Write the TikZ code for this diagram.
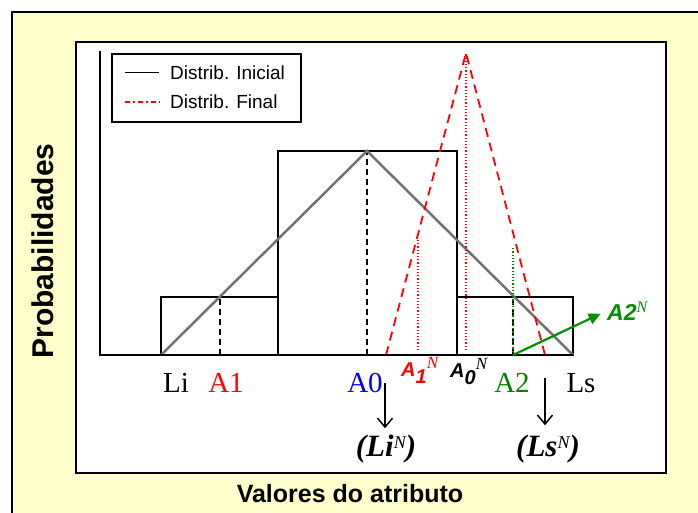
\documentclass[tikz,border=0pt]{standalone}
\usepackage{fontspec}
\setmainfont{Liberation Serif}
\setsansfont{Liberation Sans}
\usetikzlibrary{arrows.meta}
\definecolor{paper}{RGB}{255,255,204}
\definecolor{dgreen}{RGB}{0,128,0}
\definecolor{agreen}{RGB}{0,145,0}
\def\sz#1{\fontsize{#1}{#1}\selectfont}

\begin{document}
\begin{tikzpicture}[x=1pt,y=-1pt,
		axis/.style={black, line width=1.8pt},
		bar/.style={black, line width=1.4pt},
		tick/.style={black, line width=1.4pt, dash pattern=on 6pt off 4pt},
		redleg/.style={red, line width=1.8pt, dash pattern=on 9pt off 6pt},
		lab/.style={inner sep=0pt, anchor=base, font=\sz{29}},
		nlab/.style={inner sep=0pt, anchor=base west, font=\sffamily\bfseries\itshape\sz{20}},
		down/.style={-{Straight Barb[length=9pt,width=15pt]}, line width=1.5pt}]
		\useasboundingbox (0,0) rectangle (698,513);
		\clip (0,0) rectangle (698,513);
		\fill[white] (0,0) rectangle (698,513);
		\filldraw[fill=paper, line width=1.8pt] (12,12) rectangle (720,540);
		\filldraw[fill=white, line width=1.8pt] (76,42) rectangle (666,473);

		\coordinate (O) at (100,355);
		\coordinate (Li) at (161,355);
		\coordinate (Ls) at (573,355);
		\coordinate (P) at (367,151);
		\coordinate (Q) at (466,53);
		\coordinate (LiN) at (386,355);
		\coordinate (LsN) at (545,355);

		% histograma
		\draw[bar] (Li) rectangle (278,297);
		\draw[bar] (278,355) rectangle (457,151);
		\draw[bar] (457,355) rectangle (Ls |- 0,297);
		\draw[tick] (220,355) -- (220,297);
		\draw[tick] (P |- O) -- (P);
		\draw[tick] (513,355) -- (513,297);
		\draw[black!55, line width=2.5pt] (Li) -- (P) -- (Ls);

		% distribuicao final
		\draw[red, line width=1.2pt, dotted] (Q |- 0,350) -- (Q);
		\draw[red, line width=1.2pt, dotted] (418,350) -- (418,240);
		\draw[dgreen, line width=1.2pt, dotted] (513,355) -- (513,247);
		\draw[redleg] (LiN) -- (Q) -- (LsN);

		\draw[axis] (100,51) -- (O) -- (Ls);

		% legenda
		\draw[line width=1.3pt] (112,54) rectangle (301,122);
		\draw[line width=1pt] (125,73) -- (159,73);
		\draw[red, line width=1.6pt, dash pattern=on 5pt off 3pt on 2pt off 3pt] (125,102) -- (160,102);
		\node[anchor=west, inner sep=0pt, font=\sffamily\sz{19}] (ini) at (170,73) {Distrib. Inicial};
		\node[anchor=west, inner sep=0pt, font=\sffamily\sz{19}] (fin) at (170,102) {Distrib. Final};

		\node[lab] (li) at (176,392) {Li};
		\node[lab, red] (aone) at (226,392) {A1};
		\node[lab, blue] (azero) at (365,392) {A0};
		\node[lab, dgreen] (atwo) at (512,392) {A2};
		\node[lab] (ls) at (581,392) {Ls};

		\node[nlab, red] (aoneN) at (401,376) {A\raisebox{-7pt}{1}\raisebox{8pt}{\rmfamily\mdseries\sz{17}N}};
		\node[nlab] (azeroN) at (450,377) {A\raisebox{-7pt}{0}\raisebox{8pt}{\rmfamily\mdseries\sz{17}N}};
		\node[nlab, agreen, font=\sffamily\bfseries\itshape\sz{23}] (atwoN) at (607,320) {A2\raisebox{8pt}{\rmfamily\mdseries\sz{16}N}};

		\node[lab, font=\bfseries\itshape\sz{31}] (liN) at (386,456) {(Li\raisebox{8pt}{\mdseries\sz{18}N})};
		\node[lab, font=\bfseries\itshape\sz{31}] (lsN) at (548,456) {(Ls\raisebox{8pt}{\mdseries\sz{18}N})};

		\coordinate (d1) at (385,383);
		\coordinate (d2) at (545,378);
		\draw[down, shorten >=6pt] (d1) -- (d1 |- liN.north);
		\draw[down, shorten >=9pt] (d2) -- (d2 |- lsN.north);
		\draw[agreen, line width=2.2pt, -{Triangle[length=12pt,width=11pt]}, shorten >=7pt] (LsN -| 513,0) -- (atwoN.west);

		\node[rotate=90, font=\sffamily\bfseries\sz{30}] (ylab) at (43,251) {Probabilidades};
		\node[font=\sffamily\bfseries\sz{25}] (xlab) at (350,494) {Valores do atributo};
	\end{tikzpicture}
\end{document}
